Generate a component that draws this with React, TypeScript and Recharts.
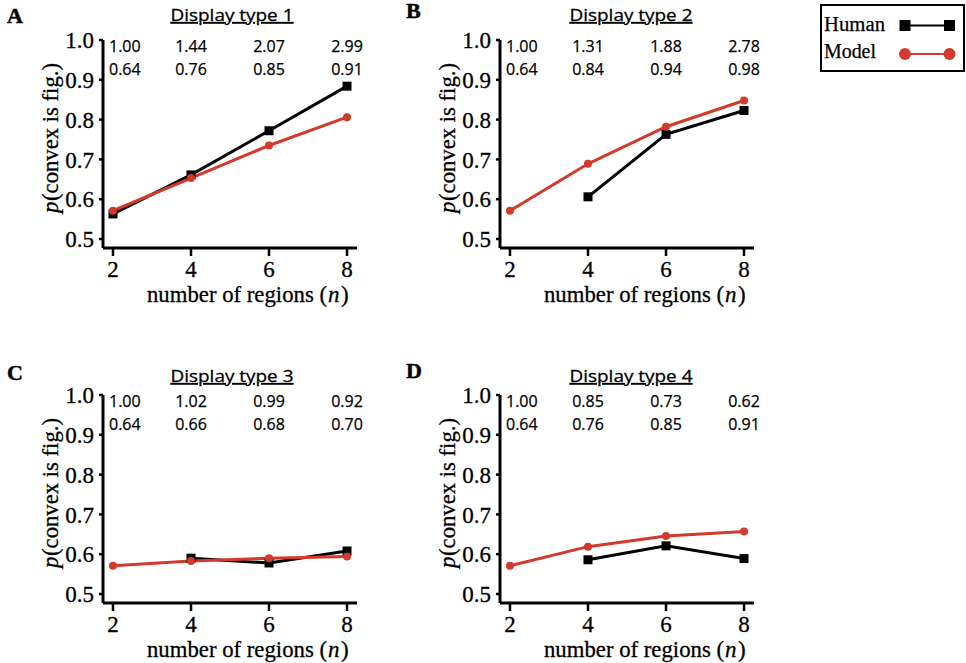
import React from 'react';
import { LineChart, Line, XAxis, YAxis, Label, LabelList } from 'recharts';

const nValues = [2, 4, 6, 8];
const yTicks = [0.5, 0.6, 0.7, 0.8, 0.9, 1.0];

const humanA = [0.563, 0.661, 0.772, 0.884];
const modelA = [0.571, 0.653, 0.735, 0.806];
const topRowA = ['1.00', '1.44', '2.07', '2.99'];
const bottomRowA = ['0.64', '0.76', '0.85', '0.91'];

const humanB = [null, 0.606, 0.763, 0.823];
const modelB = [0.571, 0.689, 0.782, 0.848];
const topRowB = ['1.00', '1.31', '1.88', '2.78'];
const bottomRowB = ['0.64', '0.84', '0.94', '0.98'];

const humanC = [null, 0.59, 0.578, 0.608];
const modelC = [0.571, 0.583, 0.59, 0.594];
const topRowC = ['1.00', '1.02', '0.99', '0.92'];
const bottomRowC = ['0.64', '0.66', '0.68', '0.70'];

const humanD = [null, 0.586, 0.621, 0.589];
const modelD = [0.571, 0.619, 0.646, 0.657];
const topRowD = ['1.00', '0.85', '0.73', '0.62'];
const bottomRowD = ['0.64', '0.76', '0.85', '0.91'];

const RED = '#d23a2c';
const SERIF = '"Liberation Serif", "Times New Roman", serif';
const SANS = '"Open Sans", "Noto Sans", sans-serif';
const PLOT_TOP = 40;

const SquareDot = (props: any) => {
  const { cx, cy, index } = props;
  if (cx == null || cy == null || props.value == null) return <g key={`s${index}`} />;
  return <rect key={`s${index}`} x={cx - 4.5} y={cy - 4.5} width={9} height={9} fill="#000" />;
};

const CircleDot = (props: any) => {
  const { cx, cy, index } = props;
  if (cx == null || cy == null || props.value == null) return <g key={`c${index}`} />;
  return <circle key={`c${index}`} cx={cx} cy={cy} r={4} fill={RED} />;
};

const makeRowLabel = (topRow: string[], bottomRow: string[]) => (props: any) => {
  const { x, index } = props;
  if (x == null) return null;
  const first = index === 0;
  const tx = first ? x - 4 : x;
  const anchor = first ? 'start' : 'middle';
  return (
    <g key={`r${index}`}>
      <text x={tx} y={PLOT_TOP + 12} textAnchor={anchor} fontFamily={SANS} fontSize={16} fill="#000" stroke="#000" strokeWidth={0.25}>
        {topRow[index]}
      </text>
      <text x={tx} y={PLOT_TOP + 35} textAnchor={anchor} fontFamily={SANS} fontSize={16} fill="#000" stroke="#000" strokeWidth={0.25}>
        {bottomRow[index]}
      </text>
    </g>
  );
};

const XLabel = (props: any) => {
  const vb = props.viewBox;
  const sx = vb.x + 44;
  const by = vb.y + 54;
  return (
    <g>
      <text
        x={sx}
        y={by}
        fontFamily={SERIF}
        fontSize={23}
        fill="#000"
        stroke="#000"
        strokeWidth={0.3}
        textLength={180}
        lengthAdjust="spacingAndGlyphs"
      >
        number of regions (
      </text>
      <text x={sx + 181} y={by} fontFamily={SERIF} fontStyle="italic" fontSize={23} fill="#000" stroke="#000" strokeWidth={0.3}>
        n
      </text>
      <text x={sx + 194} y={by} fontFamily={SERIF} fontSize={23} fill="#000" stroke="#000" strokeWidth={0.3}>
        )
      </text>
    </g>
  );
};

const YLabel = (props: any) => {
  const vb = props.viewBox;
  const bx = vb.x + 15;
  const cy = vb.y + 98;
  return (
    <g transform={`translate(${bx} ${cy}) rotate(-90)`}>
      <text x={-75} y={0} fontFamily={SERIF} fontStyle="italic" fontSize={23} fill="#000" stroke="#000" strokeWidth={0.3}>
        p
      </text>
      <text
        x={-63}
        y={0}
        fontFamily={SERIF}
        fontSize={23}
        fill="#000"
        stroke="#000"
        strokeWidth={0.3}
        textLength={138}
        lengthAdjust="spacingAndGlyphs"
      >
        (convex is fig.)
      </text>
    </g>
  );
};

type PanelProps = {
  left: number;
  top: number;
  human: (number | null)[];
  model: number[];
  topRow: string[];
  bottomRow: string[];
};

const X_DOMAIN: [number, number] = [1.744, 8.256];
const tickStyle = { fill: '#000', fontFamily: SERIF, fontSize: 23, stroke: '#000', strokeWidth: 0.3 };

function Panel({ left, top, human, model, topRow, bottomRow }: PanelProps) {
  const data = nValues.map((n, i) => ({ n, human: human[i], model: model[i] }));
  return (
    <div style={{ position: 'absolute', left, top, width: 400, height: 310 }}>
      <LineChart width={400} height={310} data={data} margin={{ top: PLOT_TOP, right: 43, bottom: 12, left: 43 }}>
        <XAxis
          dataKey="n"
          type="number"
          domain={X_DOMAIN}
          allowDataOverflow
          ticks={nValues}
          height={50}
          axisLine={{ stroke: '#000', strokeWidth: 3 }}
          tickLine={{ stroke: '#000', strokeWidth: 2.5 }}
          tickSize={8}
          tickMargin={5}
          tick={tickStyle}
          label={<Label content={XLabel} />}
        />
        <YAxis
          type="number"
          domain={[0.4774, 1.0]}
          allowDataOverflow
          ticks={yTicks}
          width={60}
          axisLine={{ stroke: '#000', strokeWidth: 3 }}
          tickLine={{ stroke: '#000', strokeWidth: 2.5 }}
          tickSize={4}
          tickMargin={5}
          tickFormatter={(v: number) => v.toFixed(1)}
          tick={tickStyle}
          label={<Label content={YLabel} />}
        />
        <Line
          dataKey="human"
          stroke="#000"
          strokeWidth={3}
          dot={SquareDot}
          activeDot={false}
          isAnimationActive={false}
          connectNulls={false}
        />
        <Line
          dataKey="model"
          stroke={RED}
          strokeWidth={3}
          dot={CircleDot}
          activeDot={false}
          isAnimationActive={false}
        >
          <LabelList dataKey="n" content={makeRowLabel(topRow, bottomRow)} />
        </Line>
      </LineChart>
    </div>
  );
}

const letters = [
  { t: 'A', x: 7, y: 23 },
  { t: 'B', x: 406, y: 18 },
  { t: 'C', x: 7, y: 380 },
  { t: 'D', x: 406, y: 378 },
];
const titles = [
  { t: 'Display type 1', x: 232, y: 21 },
  { t: 'Display type 2', x: 631, y: 21 },
  { t: 'Display type 3', x: 232, y: 382 },
  { t: 'Display type 4', x: 631, y: 382 },
];

export default function App() {
  return (
    <div style={{ position: 'absolute', left: 0, top: 0, width: 966, height: 663, background: '#fff' }}>
      <Panel left={0} top={0} human={humanA} model={modelA} topRow={topRowA} bottomRow={bottomRowA} />
      <Panel left={397} top={0} human={humanB} model={modelB} topRow={topRowB} bottomRow={bottomRowB} />
      <Panel left={0} top={355} human={humanC} model={modelC} topRow={topRowC} bottomRow={bottomRowC} />
      <Panel left={397} top={355} human={humanD} model={modelD} topRow={topRowD} bottomRow={bottomRowD} />
      <svg width={966} height={663} style={{ position: 'absolute', left: 0, top: 0, pointerEvents: 'none' }}>
        {letters.map((l) => (
          <text key={l.t} x={l.x} y={l.y} fontFamily={SERIF} fontWeight="bold" fontSize={22} fill="#000" stroke="#000" strokeWidth={0.5}>
            {l.t}
          </text>
        ))}
        {titles.map((t) => (
          <text
            key={t.t}
            x={t.x}
            y={t.y}
            textAnchor="middle"
            fontFamily={SANS}
            fontSize={17}
            textLength={123}
            lengthAdjust="spacingAndGlyphs"
            textDecoration="underline"
            fill="#000"
            stroke="#000"
            strokeWidth={0.3}
          >
            {t.t}
          </text>
        ))}
        <rect x={821} y={5} width={143} height={66} fill="#fff" stroke="#000" strokeWidth={2} />
        <text x={824} y={31} fontFamily={SERIF} fontSize={20} fill="#000" stroke="#000" strokeWidth={0.25} textLength={61} lengthAdjust="spacingAndGlyphs">Human</text>
        <text x={824} y={58} fontFamily={SERIF} fontSize={20} fill="#000" stroke="#000" strokeWidth={0.25} textLength={52} lengthAdjust="spacingAndGlyphs">Model</text>
        <line x1={905} y1={25.5} x2={949.5} y2={25.5} stroke="#000" strokeWidth={2} />
        <rect x={899.5} y={20} width={11} height={11} fill="#000" />
        <rect x={944} y={20} width={11} height={11} fill="#000" />
        <line x1={905} y1={54} x2={949.5} y2={54} stroke={RED} strokeWidth={2} />
        <circle cx={905} cy={54} r={6} fill={RED} />
        <circle cx={949.5} cy={54} r={6} fill={RED} />
      </svg>
    </div>
  );
}
